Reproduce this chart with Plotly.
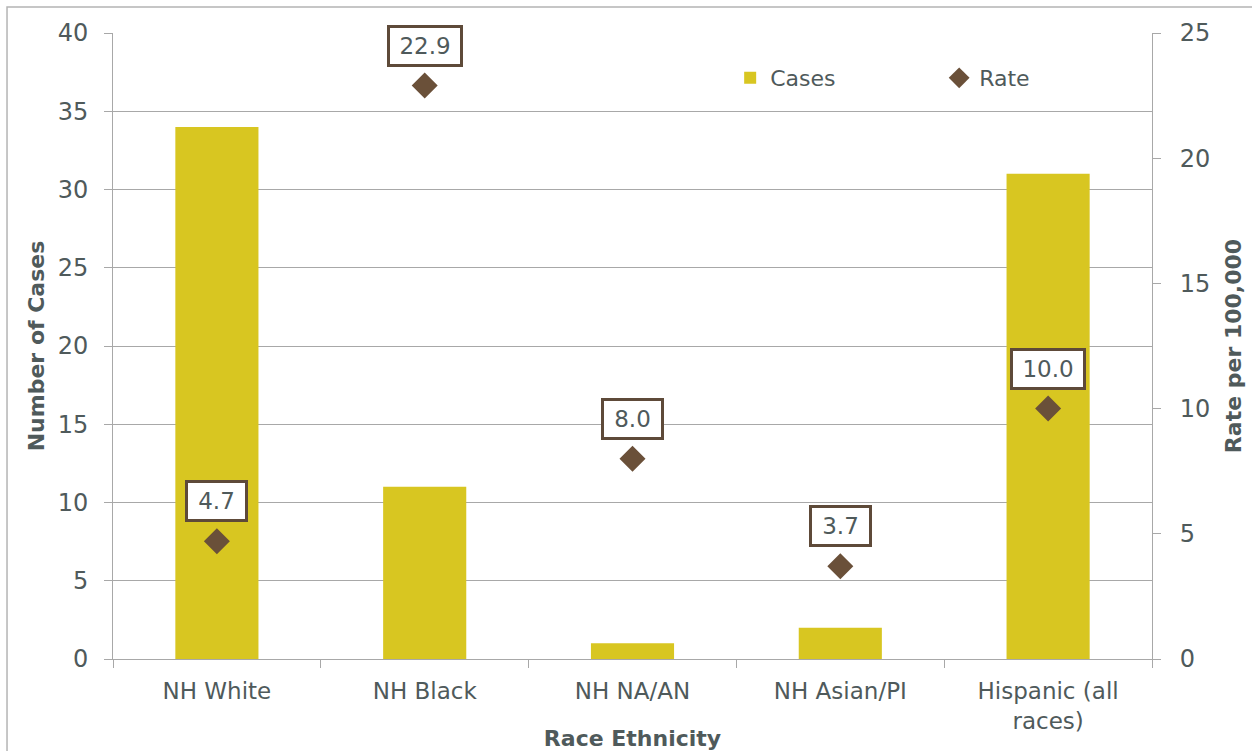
import plotly.graph_objects as go

categories = ["NH White", "NH Black", "NH NA/AN", "NH Asian/PI", "Hispanic (all<br>races)"]
cases = [34, 11, 1, 2, 31]
rates = [4.7, 22.9, 8.0, 3.7, 10.0]
rate_labels = ["4.7", "22.9", "8.0", "3.7", "10.0"]

TXT = "#4F5A5B"
GRID = "#A8A8A8"
BAR = "#D8C621"
MARK = "#6A5039"
BOX = "#5E4A39"
FONT = "DejaVu Sans"

fig = go.Figure()
fig.add_trace(go.Bar(x=categories, y=cases, name="Cases", marker_color=BAR,
                     marker_line_width=0, yaxis="y"))
fig.add_trace(go.Scatter(x=categories, y=rates, name="Rate", mode="markers", yaxis="y2",
                         marker=dict(symbol="diamond", size=20, color=MARK)))

for c, r, t in zip(categories, rates, rate_labels):
    fig.add_annotation(x=c, y=r, xref="x", yref="y2", text=t, showarrow=False,
                       yshift=40, font=dict(family=FONT, size=23, color=TXT),
                       bgcolor="white", bordercolor=BOX, borderwidth=3, borderpad=5,
                       width=13 * len(t) + 8)

# outer frame
fig.add_shape(type="rect", xref="paper", yref="paper", x0=-0.102, x1=1.3, y0=-0.3, y1=1.0415,
              line=dict(color="#B4B4B4", width=1.5), fillcolor="rgba(0,0,0,0)", layer="below")

fig.update_layout(
    width=1252, height=751,
    margin=dict(l=113, r=100, t=33, b=92),
    plot_bgcolor="white", paper_bgcolor="white",
    font=dict(family=FONT, size=24, color=TXT),
    bargap=0.6,
    showlegend=True,
    legend=dict(orientation="h", x=0.594, y=0.928, xanchor="left", yanchor="middle",
                font=dict(family=FONT, size=22, color=TXT), bgcolor="rgba(0,0,0,0)",
                entrywidth=164, entrywidthmode="pixels", itemclick=False),
    xaxis=dict(showline=True, linecolor=GRID, linewidth=1, ticks="outside", ticklen=8,
               tickcolor=GRID, tickson="boundaries", ticklabelstandoff=11, automargin=False,
               tickfont=dict(size=23),
               title=dict(text="<b>Race Ethnicity</b>", standoff=4, font=dict(size=22))),
    yaxis=dict(range=[0, 40], dtick=5, showline=True, linecolor=GRID, linewidth=1,
               showgrid=True, gridcolor=GRID, gridwidth=1, zeroline=False, automargin=False,
               ticks="outside", ticklen=8, tickcolor=GRID, ticklabelstandoff=11,
               title=dict(text="<b>Number of Cases</b>", standoff=6, font=dict(size=22))),
    yaxis2=dict(range=[0, 25], dtick=5, overlaying="y", side="right", showline=True,
                linecolor=GRID, linewidth=1, showgrid=False, zeroline=False, automargin=False,
                ticks="outside", ticklen=8, tickcolor=GRID, ticklabelstandoff=14,
                title=dict(text="<b>Rate per 100,000</b>", standoff=16, font=dict(size=22))),
)

fig.write_html("out.html")
